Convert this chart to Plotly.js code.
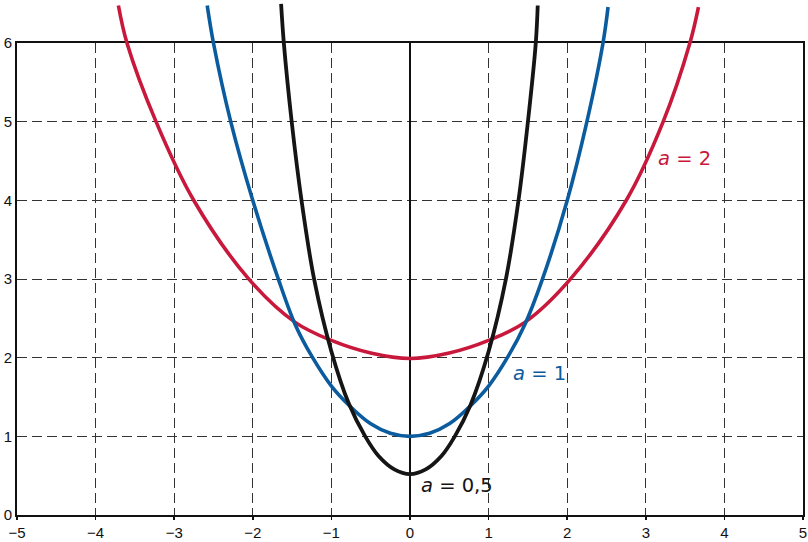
<!DOCTYPE html>
<html>
<head>
<meta charset="utf-8">
<script src="https://cdn.plot.ly/plotly-3.0.1.min.js"></script>
<style>html,body{margin:0;padding:0;background:#fff;}#chart{width:808px;height:542px;}</style>
</head>
<body>
<div id="chart"></div>
<script>
// Values
const xRed   = [-3.71, -3.60, -3.23, -2.75, -2.05, -1.46, -1.00, -0.50, 0.00, 0.50, 1.00, 1.46, 2.04, 2.75, 3.22, 3.56, 3.67];
const yRed   = [ 6.48,  6.00,  5.00,  4.00,  3.00,  2.45,  2.22,  2.06, 1.99, 2.06, 2.22, 2.45, 3.00, 4.00, 5.00, 6.00, 6.46];

const xBlue  = [-2.58, -2.50, -2.28, -2.00, -1.675, -1.46, -1.25, -1.00, -0.78, -0.50, -0.25, 0.00, 0.25, 0.50, 0.78, 1.00, 1.25, 1.46, 1.685, 2.00, 2.25, 2.455, 2.52];
const yBlue  = [ 6.48,  6.00,  5.00,  4.00,  3.00,   2.42,  2.02,  1.64,  1.40,  1.16,  1.04, 1.00, 1.04, 1.16, 1.40, 1.64, 2.02, 2.42, 3.00, 4.00, 5.00, 6.00, 6.46];

const xBlack = [-1.64, -1.605, -1.505, -1.38, -1.22, -1.00, -0.78, -0.57, -0.40, -0.20, 0.00, 0.20, 0.40, 0.57, 0.77, 1.00, 1.22, 1.38, 1.50, 1.60, 1.625];
const yBlack = [ 6.50,  6.00,   5.00,   4.00,  3.00,  2.08,  1.42,  1.00,  0.75,  0.58, 0.52, 0.58, 0.75, 1.00, 1.40, 2.08, 3.00, 4.00, 5.00, 6.00, 6.48];

const labels = ['<i>a</i> = 2', '<i>a</i> = 1', '<i>a</i> = 0,5'];
const labelX = [3.49, 1.65, 0.60];
const labelY = [4.53, 1.80, 0.37];

const RED = '#C8193C', BLUE = '#0B5C9E', BLACK = '#151515';
const colors = [RED, BLUE, BLACK];

function curve(x, y, c, w) {
  return {x: x, y: y, xaxis: 'x2', yaxis: 'y2', type: 'scatter', mode: 'lines',
          line: {color: c, width: w, shape: 'spline', smoothing: 1},
          hoverinfo: 'skip', showlegend: false};
}

const data = [
  {x: [], y: [], xaxis: 'x', yaxis: 'y', type: 'scatter', mode: 'lines', showlegend: false, hoverinfo: 'skip'},
  curve(xRed, yRed, RED, 3.6),
  curve(xBlue, yBlue, BLUE, 3.6),
  curve(xBlack, yBlack, BLACK, 3.8)
];

const annotations = labels.map((t, i) => ({
  text: t, x: labelX[i], y: labelY[i], xref: 'x2', yref: 'y2', showarrow: false,
  font: {family: 'DejaVu Sans', size: 19.5, color: colors[i]},
  xanchor: 'center', yanchor: 'middle'
}));

const tickFont = {family: 'Liberation Sans, Arial, sans-serif', size: 15, color: '#111'};

const layout = {
  width: 808, height: 542,
  margin: {l: 17, r: 5, t: 0, b: 27, pad: 0},
  paper_bgcolor: '#ffffff', plot_bgcolor: 'rgba(0,0,0,0)',
  showlegend: false,
  xaxis: {
    domain: [0, 1], range: [-5, 5], dtick: 1, tick0: 0, anchor: 'y',
    showgrid: true, gridcolor: '#333333', gridwidth: 1, griddash: '10px,5px',
    zeroline: true, zerolinecolor: '#111', zerolinewidth: 1.5,
    showline: true, linecolor: '#111', linewidth: 2, mirror: true,
    ticks: 'outside', ticklen: 3, tickwidth: 1.5, tickcolor: '#111',
    tickfont: tickFont,
    fixedrange: true
  },
  yaxis: {
    domain: [0, 6 / 6.55], range: [0, 6], dtick: 1, tick0: 0, anchor: 'x',
    showgrid: true, gridcolor: '#333333', gridwidth: 1, griddash: '10px,5px',
    zeroline: false,
    showline: true, linecolor: '#111', linewidth: 2, mirror: true,
    ticks: '', ticklabelstandoff: 0,
    tickfont: tickFont,
    fixedrange: true
  },
  xaxis2: {domain: [0, 1], range: [-5, 5], anchor: 'y2', visible: false, fixedrange: true},
  yaxis2: {domain: [0, 1], range: [0, 6.55], anchor: 'x2', visible: false, fixedrange: true},
  annotations: annotations
};

Plotly.newPlot('chart', data, layout, {staticPlot: true});
</script>
</body>
</html>
